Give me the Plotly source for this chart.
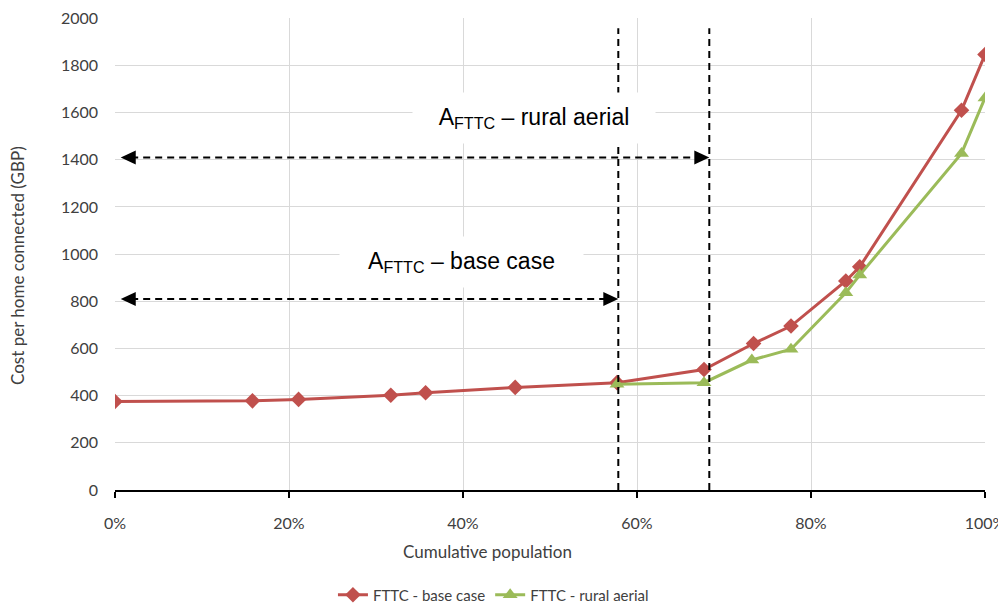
import plotly.graph_objects as go

# ---- data ----
x_base = [0.0, 0.158, 0.211, 0.317, 0.357, 0.460, 0.577, 0.677, 0.734, 0.777, 0.840, 0.856, 0.973, 1.0]
y_base = [375, 378, 384, 402, 412, 435, 455, 511, 621, 695, 886, 946, 1610, 1846]
x_rural = [0.577, 0.677, 0.732, 0.777, 0.840, 0.856, 0.973, 1.0]
y_rural = [448, 455, 551, 597, 836, 911, 1427, 1662]

series_names = ["FTTC - base case", "FTTC - rural aerial"]
y_tick_vals = list(range(0, 2001, 200))
x_tick_vals = [0, 0.2, 0.4, 0.6, 0.8, 1.0]
x_tick_text = ["0%", "20%", "40%", "60%", "80%", "100%"]

# annotation guides
cut_base = 0.5785      # vertical dashed line: base case
cut_rural = 0.6831     # vertical dashed line: rural aerial
arrow_start = 0.0066
arrow_level_rural = 1410
arrow_level_base = 810
guide_top = 1958
label_rural = "A<sub>FTTC</sub> – rural aerial"
label_base = "A<sub>FTTC</sub> – base case"

RED = "#C0504D"
GREEN = "#9BBB59"
TXT = "#404040"

# the page places the figure 8px in from the top-left corner
W, H, L, R, T, B = 998, 598, 107, 21, 10, 116
plot_h = H - T - B

fig = go.Figure()
fig.add_trace(go.Scatter(
    x=x_base, y=y_base, name=series_names[0], mode="lines+markers",
    line=dict(color=RED, width=3),
    marker=dict(symbol="diamond", size=12, color=RED),
))
fig.add_trace(go.Scatter(
    x=x_rural, y=y_rural, name=series_names[1], mode="lines+markers",
    line=dict(color=GREEN, width=3),
    marker=dict(symbol="triangle-up", size=13, color=GREEN),
))

dash = "7px,5px"
shapes = []
for xc in (cut_base, cut_rural):
    shapes.append(dict(type="line", xref="x", yref="y", x0=xc, x1=xc, y0=0, y1=guide_top,
                       line=dict(color="black", width=2, dash=dash), layer="above"))
for lvl, xe in ((arrow_level_rural, cut_rural), (arrow_level_base, cut_base)):
    shapes.append(dict(type="line", xref="x", yref="y", x0=arrow_start + 0.012, x1=xe - 0.012,
                       y0=lvl, y1=lvl, line=dict(color="black", width=2, dash=dash), layer="above"))
    shapes.append(dict(type="path", xref="x", yref="y", xsizemode="pixel", ysizemode="pixel",
                       xanchor=arrow_start, yanchor=lvl, path="M0,0 L15,7 L15,-7 Z",
                       fillcolor="black", line=dict(width=0), layer="above"))
    shapes.append(dict(type="path", xref="x", yref="y", xsizemode="pixel", ysizemode="pixel",
                       xanchor=xe, yanchor=lvl, path="M0,0 L-15,7 L-15,-7 Z",
                       fillcolor="black", line=dict(width=0), layer="above"))

annotations = [
    dict(text=label_rural, x=0.4816, y=1576, xref="x", yref="y", showarrow=False,
         font=dict(family="Liberation Sans, Arial", size=23, color="black"),
         bgcolor="white", width=242, height=50, borderpad=0, align="center", valign="middle"),
    dict(text=label_base, x=0.3983, y=966, xref="x", yref="y", showarrow=False,
         font=dict(family="Liberation Sans, Arial", size=23, color="black"),
         bgcolor="white", width=243, height=50, borderpad=0, align="center", valign="middle"),
    dict(text="Cumulative population", x=0.4276, y=-61 / plot_h,
         xref="paper", yref="paper", yanchor="middle", xanchor="center", showarrow=False,
         font=dict(family="Lato", size=17, color=TXT)),
    dict(text="Cost per home connected (GBP)", x=0, xshift=-97, y=0.4746,
         xref="paper", yref="paper", textangle=-90, showarrow=False,
         xanchor="center", yanchor="middle",
         font=dict(family="Lato", size=17, color=TXT)),
]

fig.update_layout(
    width=W, height=H,
    margin=dict(l=L, r=R, t=T, b=B, autoexpand=False),
    paper_bgcolor="white", plot_bgcolor="white",
    font=dict(family="Lato", size=15, color=TXT),
    showlegend=True,
    legend=dict(orientation="h", x=0.435, xanchor="center", y=-105 / plot_h,
                yanchor="middle", font=dict(family="Lato", size=15, color=TXT),
                itemwidth=30, tracegroupgap=0),
    shapes=shapes,
    annotations=annotations,
)
fig.update_xaxes(
    range=[0, 1], tickvals=x_tick_vals, ticktext=x_tick_text,
    showgrid=True, gridcolor="#d9d9d9", gridwidth=1,
    showline=True, linecolor="black", linewidth=2,
    ticks="outside", ticklen=6, tickwidth=2, tickcolor="black",
    ticklabelstandoff=12, zeroline=False, automargin=False,
    ticklabeloverflow="allow",
    tickfont=dict(family="Lato", size=16, color=TXT),
)
fig.update_yaxes(
    range=[0, 2001], tickvals=y_tick_vals,
    showgrid=True, gridcolor="#d9d9d9", gridwidth=1,
    showline=False, zeroline=False, ticks="", automargin=False,
    ticklabelstandoff=16, ticklabeloverflow="allow",
    tickfont=dict(family="Lato", size=16, color=TXT),
)

fig.write_html("out.html")
